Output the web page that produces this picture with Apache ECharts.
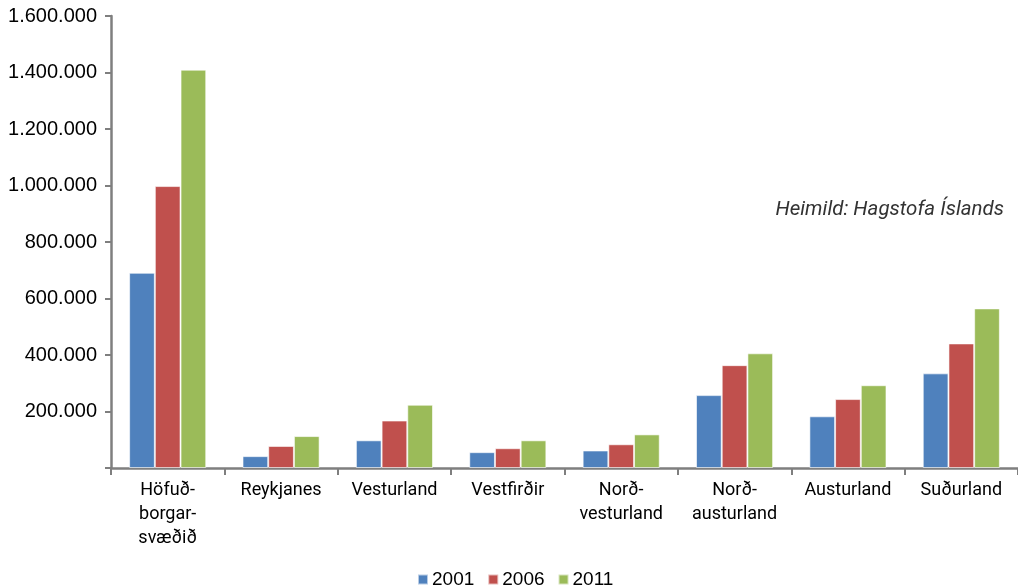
<!DOCTYPE html>
<html>
<head>
<meta charset="utf-8">
<script src="https://cdn.jsdelivr.net/npm/echarts@6/dist/echarts.min.js"></script>
<style>html,body{margin:0;padding:0;background:#fff}#c{width:1018px;height:588px}</style>
</head>
<body>
<div id="c"></div>
<script>
const categories = ["Höfuð-\nborgar-\nsvæðið", "Reykjanes", "Vesturland", "Vestfirðir", "Norð-\nvesturland", "Norð-\nausturland", "Austurland", "Suðurland"];
const seriesNames = ["2001", "2006", "2011"];
const values2001 = [691000, 42000, 98000, 56000, 62000, 258000, 183000, 335000];
const values2006 = [998000, 78000, 168000, 70000, 84000, 364000, 244000, 441000];
const values2011 = [1410000, 113000, 224000, 98000, 119000, 406000, 293000, 565000];
const yTicks = [0, 200000, 400000, 600000, 800000, 1000000, 1200000, 1400000, 1600000];
const colors = ["#4F81BD", "#C0504D", "#9BBB59"];
const sourceText = "Heimild: Hagstofa Íslands";

const chart = echarts.init(document.getElementById('c'), null, {renderer: 'canvas'});
function fmt(v) {
  if (v === 0) return '';
  return String(v).replace(/\B(?=(\d{3})+(?!\d))/g, '.');
}
const data = [values2001, values2006, values2011];
chart.setOption({
  animation: false,
  color: colors,
  grid: {left: 111, right: 0, top: 16, bottom: 120, containLabel: false},
  legend: {
    top: 565, left: 412,
    itemWidth: 10, itemHeight: 10, itemGap: 13,
    icon: 'rect',
    textStyle: {fontFamily: 'Liberation Sans, Arial', fontSize: 19, color: '#000', padding: [0, 0, 0, -1]},
    data: seriesNames
  },
  xAxis: {
    type: 'category',
    data: categories,
    axisLine: {lineStyle: {color: '#7f7f7f', width: 2.5}},
    axisTick: {show: true, length: 7, lineStyle: {color: '#7f7f7f', width: 2}},
    axisLabel: {fontFamily: 'Roboto', fontSize: 18, color: '#000', lineHeight: 24, margin: 10, interval: 0}
  },
  yAxis: {
    type: 'value',
    min: yTicks[0], max: yTicks[yTicks.length - 1], interval: yTicks[1] - yTicks[0],
    splitLine: {show: false},
    axisLine: {show: true, lineStyle: {color: '#7f7f7f', width: 2.5}},
    axisTick: {show: true, length: 6, lineStyle: {color: '#7f7f7f', width: 2}},
    axisLabel: {fontFamily: 'Liberation Sans, Arial', fontSize: 20, color: '#000', margin: 14, formatter: fmt}
  },
  series: seriesNames.map((n, i) => ({
    name: n, type: 'bar', data: data[i],
    barGap: '0%', barCategoryGap: '32%',
    itemStyle: {borderColor: 'rgba(255,255,255,0.6)', borderWidth: 1}
  })),
  graphic: [{
    type: 'text', right: 14, top: 200,
    style: {text: sourceText, fontFamily: 'Roboto', fontStyle: 'italic', fontSize: 20.5, fill: '#333'}
  }]
});
</script>
</body>
</html>
